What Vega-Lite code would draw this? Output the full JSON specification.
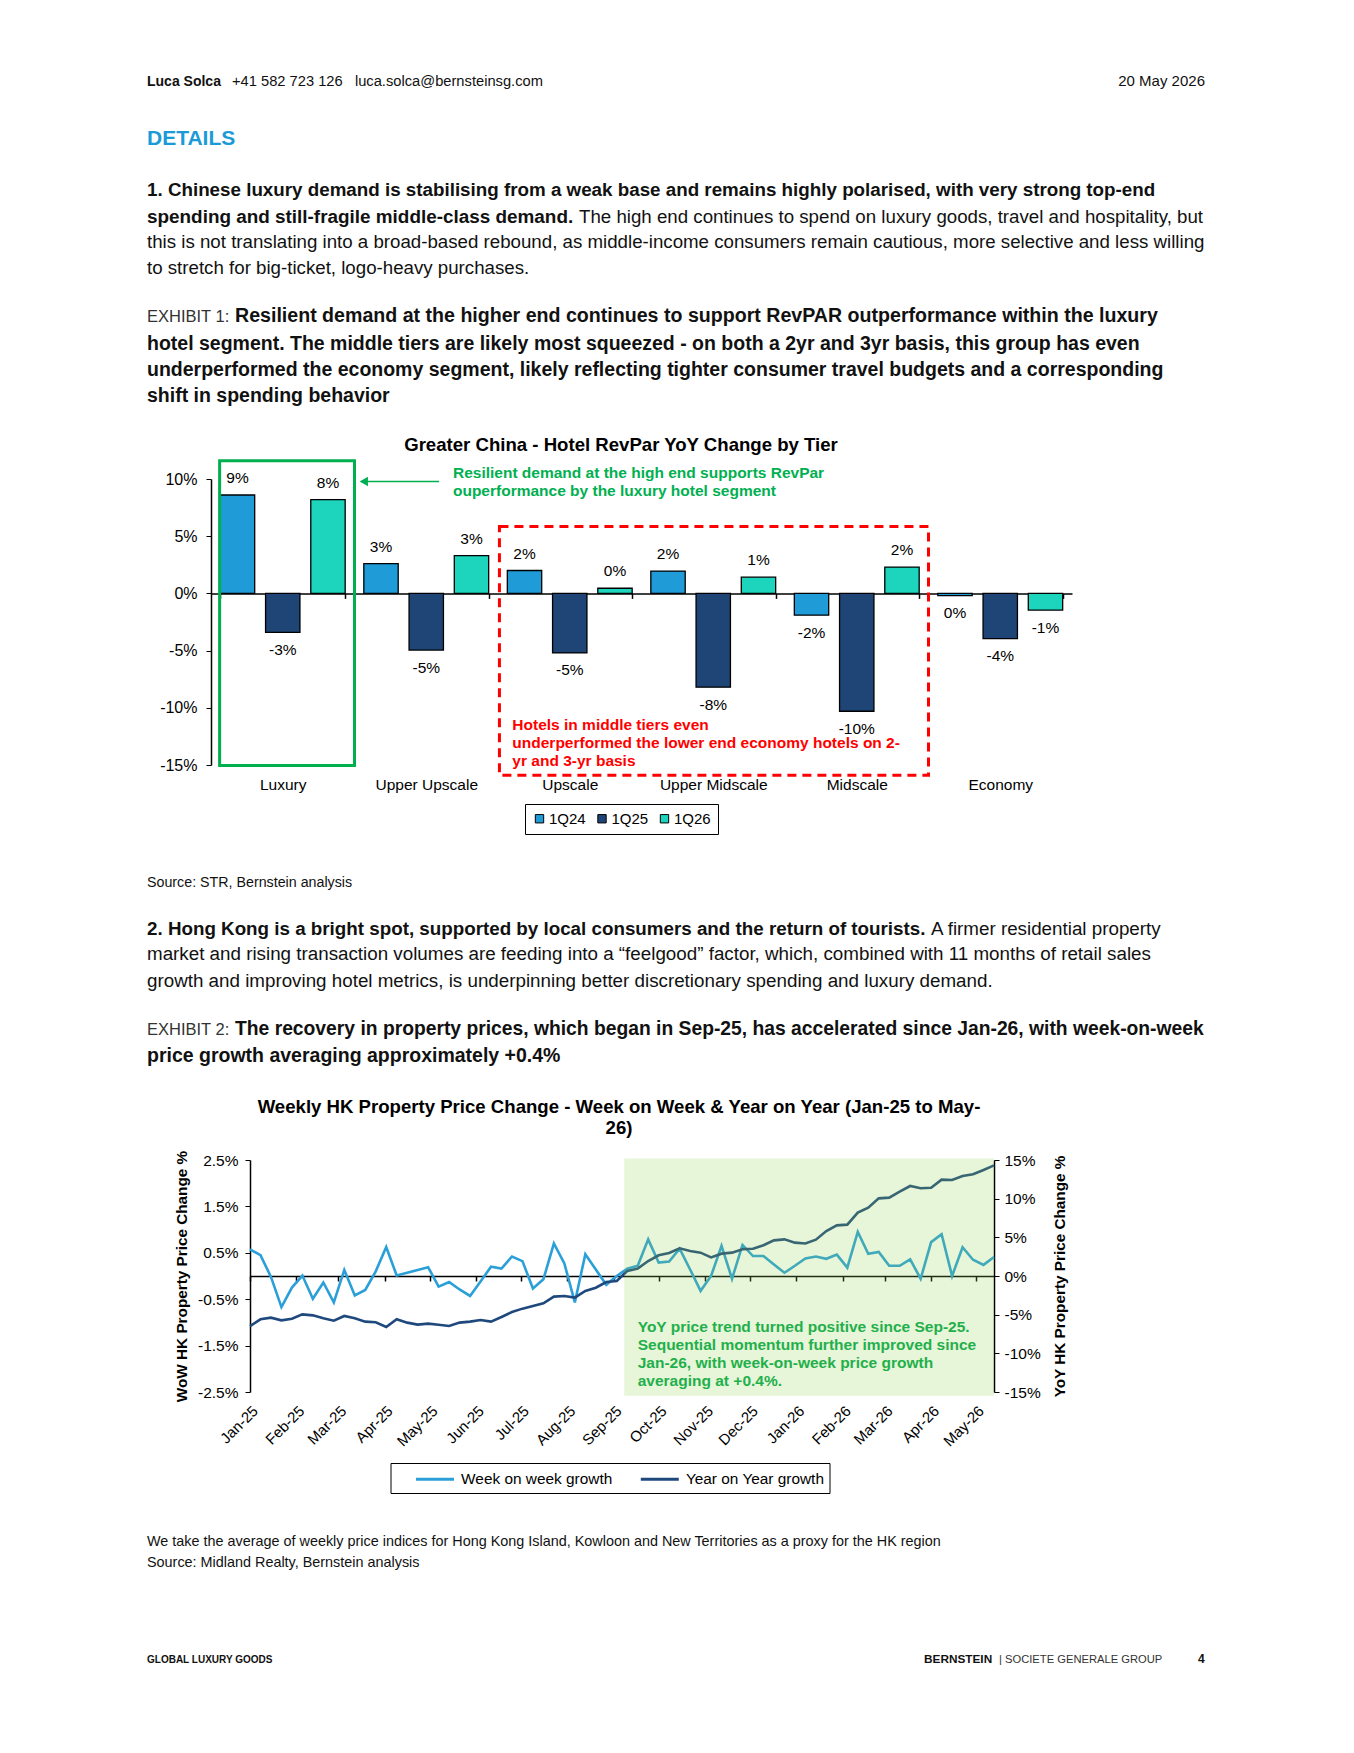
{
"$schema": "https://vega.github.io/schema/vega-lite/v6.json",
"background": "white",
"padding": {"left": 147, "top": 0, "right": 0, "bottom": 0},
"spacing": 0,
"bounds": "full",
"resolve": {"scale": {"color": "independent"}, "legend": {"color": "independent"}},
"config": {
  "view": {"stroke": null},
  "font": "Liberation Sans",
  "concat": {"spacing": 0},
  "locale": {"number": {"decimal": ".", "thousands": ",", "grouping": [3], "currency": ["$", ""], "minus": "-"}},
  "title": {"anchor": "start", "offset": 0, "color": "#111111", "font": "Liberation Sans", "baseline": "top"},
  "axis": {"labelColor": "#000000", "titleColor": "#000000", "domainColor": "#000000", "tickColor": "#000000", "grid": false, "labelFont": "Liberation Sans", "titleFont": "Liberation Sans"},
  "legend": {"labelFont": "Liberation Sans", "labelColor": "#000000"}
},
"datasets": {
  "bars": [
    {"tier": "Luxury", "quarter": "1Q24", "value": 0.086},
    {"tier": "Luxury", "quarter": "1Q25", "value": -0.034},
    {"tier": "Luxury", "quarter": "1Q26", "value": 0.082},
    {"tier": "Upper Upscale", "quarter": "1Q24", "value": 0.026},
    {"tier": "Upper Upscale", "quarter": "1Q25", "value": -0.0495},
    {"tier": "Upper Upscale", "quarter": "1Q26", "value": 0.033},
    {"tier": "Upscale", "quarter": "1Q24", "value": 0.020},
    {"tier": "Upscale", "quarter": "1Q25", "value": -0.052},
    {"tier": "Upscale", "quarter": "1Q26", "value": 0.0045},
    {"tier": "Upper Midscale", "quarter": "1Q24", "value": 0.0195},
    {"tier": "Upper Midscale", "quarter": "1Q25", "value": -0.082},
    {"tier": "Upper Midscale", "quarter": "1Q26", "value": 0.0142},
    {"tier": "Midscale", "quarter": "1Q24", "value": -0.019},
    {"tier": "Midscale", "quarter": "1Q25", "value": -0.103},
    {"tier": "Midscale", "quarter": "1Q26", "value": 0.023},
    {"tier": "Economy", "quarter": "1Q24", "value": -0.002},
    {"tier": "Economy", "quarter": "1Q25", "value": -0.0396},
    {"tier": "Economy", "quarter": "1Q26", "value": -0.0146}
  ],
  "hk": [
    {"date": "2025-01-01", "wow": 0.575, "yoy": -6.47},
    {"date": "2025-01-08", "wow": 0.45, "yoy": -5.6},
    {"date": "2025-01-15", "wow": -0.02, "yoy": -5.39},
    {"date": "2025-01-22", "wow": -0.67, "yoy": -5.73},
    {"date": "2025-01-29", "wow": -0.25, "yoy": -5.52},
    {"date": "2025-02-05", "wow": 0.01, "yoy": -4.96},
    {"date": "2025-02-12", "wow": -0.49, "yoy": -5.09},
    {"date": "2025-02-19", "wow": -0.14, "yoy": -5.47},
    {"date": "2025-02-26", "wow": -0.57, "yoy": -5.78},
    {"date": "2025-03-05", "wow": 0.13, "yoy": -5.17},
    {"date": "2025-03-12", "wow": -0.42, "yoy": -5.47},
    {"date": "2025-03-19", "wow": -0.30, "yoy": -5.9},
    {"date": "2025-03-26", "wow": 0.10, "yoy": -5.99},
    {"date": "2025-04-02", "wow": 0.625, "yoy": -6.6},
    {"date": "2025-04-09", "wow": 0.01, "yoy": -5.6},
    {"date": "2025-04-16", "wow": 0.07, "yoy": -6.03},
    {"date": "2025-04-23", "wow": 0.13, "yoy": -6.29},
    {"date": "2025-04-30", "wow": 0.19, "yoy": -6.16},
    {"date": "2025-05-07", "wow": -0.23, "yoy": -6.3},
    {"date": "2025-05-14", "wow": -0.13, "yoy": -6.47},
    {"date": "2025-05-21", "wow": -0.29, "yoy": -6.03},
    {"date": "2025-05-28", "wow": -0.43, "yoy": -5.9},
    {"date": "2025-06-04", "wow": -0.12, "yoy": -5.69},
    {"date": "2025-06-11", "wow": 0.20, "yoy": -5.9},
    {"date": "2025-06-18", "wow": 0.16, "yoy": -5.3},
    {"date": "2025-06-25", "wow": 0.42, "yoy": -4.66},
    {"date": "2025-07-02", "wow": 0.32, "yoy": -4.22},
    {"date": "2025-07-09", "wow": -0.27, "yoy": -3.88},
    {"date": "2025-07-16", "wow": -0.07, "yoy": -3.53},
    {"date": "2025-07-23", "wow": 0.70, "yoy": -2.67},
    {"date": "2025-07-30", "wow": 0.27, "yoy": -2.59},
    {"date": "2025-08-06", "wow": -0.57, "yoy": -2.8},
    {"date": "2025-08-13", "wow": 0.47, "yoy": -1.94},
    {"date": "2025-08-20", "wow": 0.14, "yoy": -1.51},
    {"date": "2025-08-27", "wow": -0.19, "yoy": -0.78},
    {"date": "2025-09-03", "wow": 0.0, "yoy": -0.65},
    {"date": "2025-09-10", "wow": 0.16, "yoy": 0.65},
    {"date": "2025-09-17", "wow": 0.22, "yoy": 0.95},
    {"date": "2025-09-24", "wow": 0.79, "yoy": 1.94},
    {"date": "2025-10-01", "wow": 0.29, "yoy": 2.67},
    {"date": "2025-10-08", "wow": 0.31, "yoy": 2.97},
    {"date": "2025-10-15", "wow": 0.59, "yoy": 3.58},
    {"date": "2025-10-22", "wow": 0.14, "yoy": 3.23},
    {"date": "2025-10-29", "wow": -0.32, "yoy": 3.02},
    {"date": "2025-11-05", "wow": 0.0, "yoy": 2.41},
    {"date": "2025-11-12", "wow": 0.65, "yoy": 2.89},
    {"date": "2025-11-19", "wow": -0.06, "yoy": 3.02},
    {"date": "2025-11-26", "wow": 0.67, "yoy": 3.45},
    {"date": "2025-12-03", "wow": 0.43, "yoy": 3.53},
    {"date": "2025-12-10", "wow": 0.43, "yoy": 3.97},
    {"date": "2025-12-17", "wow": 0.25, "yoy": 4.61},
    {"date": "2025-12-24", "wow": 0.07, "yoy": 4.74},
    {"date": "2025-12-31", "wow": 0.22, "yoy": 4.31},
    {"date": "2026-01-07", "wow": 0.38, "yoy": 4.2},
    {"date": "2026-01-14", "wow": 0.42, "yoy": 4.7},
    {"date": "2026-01-21", "wow": 0.37, "yoy": 5.82},
    {"date": "2026-01-28", "wow": 0.46, "yoy": 6.55},
    {"date": "2026-02-04", "wow": 0.18, "yoy": 6.64},
    {"date": "2026-02-11", "wow": 0.95, "yoy": 8.19},
    {"date": "2026-02-18", "wow": 0.48, "yoy": 8.84},
    {"date": "2026-02-25", "wow": 0.52, "yoy": 10.04},
    {"date": "2026-03-04", "wow": 0.22, "yoy": 10.13},
    {"date": "2026-03-11", "wow": 0.22, "yoy": 10.91},
    {"date": "2026-03-18", "wow": 0.36, "yoy": 11.64},
    {"date": "2026-03-25", "wow": -0.06, "yoy": 11.34},
    {"date": "2026-04-01", "wow": 0.73, "yoy": 11.42},
    {"date": "2026-04-08", "wow": 0.90, "yoy": 12.46},
    {"date": "2026-04-15", "wow": 0.0, "yoy": 12.41},
    {"date": "2026-04-22", "wow": 0.62, "yoy": 12.93},
    {"date": "2026-04-29", "wow": 0.35, "yoy": 13.15},
    {"date": "2026-05-06", "wow": 0.24, "yoy": 13.71},
    {"date": "2026-05-13", "wow": 0.41, "yoy": 14.31}
  ]
},
"vconcat": [
  {"spacing": 0, "hconcat": [
    {"width": 85, "height": 70.8, "data": {"values": []}, "mark": "point", "title": {"text": "Luca Solca", "orient": "bottom", "fontSize": 14, "fontWeight": "bold"}},
    {"width": 500, "height": 70.8, "data": {"values": []}, "mark": "point", "title": {"text": "+41 582 723 126\u00a0\u00a0\u00a0luca.solca@bernsteinsg.com", "orient": "bottom", "fontSize": 14.7, "fontWeight": "normal", "dy": -0.4}},
    {"width": 473, "height": 70.8, "data": {"values": []}, "mark": "point", "title": {"text": "20 May 2026", "orient": "bottom", "anchor": "end", "fontSize": 15, "fontWeight": "normal", "dy": -0.7}}
  ]},
  {"width": 1, "height": 33.6, "data": {"values": []}, "mark": "point", "title": {"text": "DETAILS", "orient": "bottom", "fontSize": 21, "fontWeight": "bold", "color": "#1a9bd7"}},
  {"width": 1, "height": 27.7, "data": {"values": []}, "mark": "point", "title": {"text": "1. Chinese luxury demand is stabilising from a weak base and remains highly polarised, with very strong top-end", "orient": "bottom", "fontSize": 18.8, "fontWeight": "bold"}},
  {"spacing": 5, "hconcat": [
    {"width": 1, "height": 3.9, "data": {"values": []}, "mark": "point", "title": {"text": "spending and still-fragile middle-class demand.", "orient": "bottom", "fontSize": 18.9, "fontWeight": "bold"}},
    {"width": 1, "height": 3.9, "data": {"values": []}, "mark": "point", "title": {"text": "The high end continues to spend on luxury goods, travel and hospitality, but", "orient": "bottom", "fontSize": 18.7, "fontWeight": "normal"}}
  ]},
  {"width": 1, "height": 2.2, "data": {"values": []}, "mark": "point", "title": {"text": ["this is not translating into a broad-based rebound, as middle-income consumers remain cautious, more selective and less willing", "to stretch for big-ticket, logo-heavy purchases."], "orient": "bottom", "fontSize": 18.7, "fontWeight": "normal", "lineHeight": 26}},
  {"spacing": 5, "hconcat": [
    {"width": 1, "height": 25.2, "data": {"values": []}, "mark": "point", "title": {"text": "EXHIBIT 1:", "orient": "bottom", "fontSize": 16.5, "fontWeight": "normal", "color": "#333333", "dy": 2.2}},
    {"width": 1, "height": 25.2, "data": {"values": []}, "mark": "point", "title": {"text": "Resilient demand at the higher end continues to support RevPAR outperformance within the luxury", "orient": "bottom", "fontSize": 19.6, "fontWeight": "bold"}}
  ]},
  {"width": 1, "height": 4.6, "data": {"values": []}, "mark": "point", "title": {"text": ["hotel segment. The middle tiers are likely most squeezed - on both a 2yr and 3yr basis, this group has even", "underperformed the economy segment, likely reflecting tighter consumer travel budgets and a corresponding", "shift in spending behavior"], "orient": "bottom", "fontSize": 19.5, "fontWeight": "bold", "lineHeight": 26.3}},
  {"width": 1, "height": 30.0, "data": {"values": []}, "mark": "point"},
  {"spacing": 0, "resolve": {"scale": {"color": "independent"}, "legend": {"color": "independent"}}, "hconcat": [
    {"width": 12, "height": 1, "data": {"values": []}, "mark": "point"},
    {
      "width": 861, "height": 286,
      "title": {"text": "Greater China - Hotel RevPar YoY Change by Tier", "anchor": "middle", "frame": "group", "dx": -20.5, "font": "Liberation Sans", "fontSize": 18.6, "fontWeight": "bold", "color": "#000000", "offset": -10.8, "baseline": "alphabetic"},
      "layer": [
        {
          "data": {"name": "bars"},
          "encoding": {
            "x": {"field": "tier", "type": "nominal", "sort": ["Luxury", "Upper Upscale", "Upscale", "Upper Midscale", "Midscale", "Economy"], "title": null, "scale": {"paddingInner": 0.13, "paddingOuter": 0.065}, "axis": {"orient": "bottom", "offset": -171.6, "labelPadding": 178.6, "tickBand": "extent", "tickSize": 5, "labelAngle": 0, "labelFontSize": 15.5, "domainWidth": 1.5, "tickWidth": 1.5}},
            "xOffset": {"field": "quarter", "type": "nominal", "sort": ["1Q24", "1Q25", "1Q26"], "scale": {"paddingInner": 0.24, "paddingOuter": 0}},
            "y": {"field": "value", "type": "quantitative", "title": null, "scale": {"domain": [-0.15, 0.10], "nice": false}, "axis": {"values": [-0.15, -0.10, -0.05, 0, 0.05, 0.10], "format": ".0%", "tickSize": 5, "labelPadding": 9, "labelFontSize": 16, "domainWidth": 1.5}}
          },
          "layer": [
            {"mark": {"type": "bar", "stroke": "#000000", "strokeWidth": 1.3}, "encoding": {"color": {"field": "quarter", "type": "nominal", "scale": {"domain": ["1Q24", "1Q25", "1Q26"], "range": ["#1f9bd7", "#1f4576", "#1dd5bd"]}, "legend": {"orient": "none", "legendX": 314, "legendY": 325, "direction": "horizontal", "title": null, "strokeColor": "#000000", "padding": 7, "symbolType": "square", "symbolSize": 70, "symbolStrokeColor": "#000000", "symbolStrokeWidth": 1, "labelFontSize": 15, "labelOffset": 2, "columnPadding": 8.5}}}},
            {"transform": [{"filter": "datum.value >= 0"}], "mark": {"type": "text", "baseline": "alphabetic", "dy": -12, "fontSize": 15.5, "color": "#000000"}, "encoding": {"text": {"field": "value", "type": "quantitative", "format": ".0%"}}},
            {"transform": [{"filter": "datum.value < 0"}], "mark": {"type": "text", "baseline": "top", "dy": 10.5, "fontSize": 15.5, "color": "#000000"}, "encoding": {"text": {"field": "value", "type": "quantitative", "format": ".0%"}}}
          ]
        },
        {
          "data": {"values": [{"x1": 0.06, "x2": 1.0, "y1": 0.116, "y2": -0.1505}]},
          "mark": {"type": "rect", "fillOpacity": 0, "stroke": "#00b050", "strokeWidth": 3},
          "encoding": {"x": {"field": "x1", "type": "quantitative", "scale": {"domain": [0, 6], "nice": false}, "axis": null}, "x2": {"field": "x2"}, "y": {"field": "y1", "type": "quantitative", "title": null}, "y2": {"field": "y2"}}
        },
        {
          "data": {"values": [{"x1": 2.01, "x2": 5.0, "y1": 0.0585, "y2": -0.159}]},
          "mark": {"type": "rect", "fillOpacity": 0, "stroke": "#ff0000", "strokeWidth": 3, "strokeDash": [9, 6]},
          "encoding": {"x": {"field": "x1", "type": "quantitative", "scale": {"domain": [0, 6], "nice": false}, "axis": null}, "x2": {"field": "x2"}, "y": {"field": "y1", "type": "quantitative", "title": null}, "y2": {"field": "y2"}}
        },
        {
          "data": {"values": [{"x1": 1.59, "x2": 1.045, "y": 0.0979}]},
          "mark": {"type": "rule", "color": "#00b050", "strokeWidth": 1.5},
          "encoding": {"x": {"field": "x1", "type": "quantitative", "scale": {"domain": [0, 6], "nice": false}, "axis": null}, "x2": {"field": "x2"}, "y": {"field": "y", "type": "quantitative", "title": null}}
        },
        {
          "data": {"values": [{"x": 1.065, "y": 0.0979}]},
          "mark": {"type": "point", "shape": "triangle-left", "filled": true, "color": "#00b050", "size": 90, "opacity": 1},
          "encoding": {"x": {"field": "x", "type": "quantitative", "scale": {"domain": [0, 6], "nice": false}, "axis": null}, "y": {"field": "y", "type": "quantitative", "title": null}}
        },
        {
          "data": {"values": [{"x": 1.686, "y": 0.1115, "note": "Resilient demand at the high end supports RevPar\nouperformance by the luxury hotel segment"}]},
          "mark": {"type": "text", "align": "left", "baseline": "top", "fontSize": 15.5, "fontWeight": "bold", "color": "#00b050", "lineHeight": 18, "lineBreak": "\n"},
          "encoding": {"x": {"field": "x", "type": "quantitative", "scale": {"domain": [0, 6], "nice": false}, "axis": null}, "y": {"field": "y", "type": "quantitative", "title": null}, "text": {"field": "note"}}
        },
        {
          "data": {"values": [{"x": 2.10, "y": -0.109, "note": "Hotels in middle tiers even\nunderperformed the lower end economy hotels on 2-\nyr and 3-yr basis"}]},
          "mark": {"type": "text", "align": "left", "baseline": "top", "fontSize": 15.5, "fontWeight": "bold", "color": "#ff0000", "lineHeight": 18, "lineBreak": "\n"},
          "encoding": {"x": {"field": "x", "type": "quantitative", "scale": {"domain": [0, 6], "nice": false}, "axis": null}, "y": {"field": "y", "type": "quantitative", "title": null}, "text": {"field": "note"}}
        }
      ],
      "resolve": {"scale": {"x": "independent"}}
    }
  ]},
  {"width": 1, "height": 36.7, "data": {"values": []}, "mark": "point", "title": {"text": "Source: STR, Bernstein analysis", "orient": "bottom", "fontSize": 14.25, "fontWeight": "normal"}},
  {"spacing": 5, "hconcat": [
    {"width": 1, "height": 25.6, "data": {"values": []}, "mark": "point", "title": {"text": "2. Hong Kong is a bright spot, supported by local consumers and the return of tourists.", "orient": "bottom", "fontSize": 18.8, "fontWeight": "bold"}},
    {"width": 1, "height": 25.6, "data": {"values": []}, "mark": "point", "title": {"text": "A firmer residential property", "orient": "bottom", "fontSize": 18.8, "fontWeight": "normal"}}
  ]},
  {"width": 1, "height": 1.8, "data": {"values": []}, "mark": "point", "title": {"text": ["market and rising transaction volumes are feeding into a “feelgood” factor, which, combined with 11 months of retail sales", "growth and improving hotel metrics, is underpinning better discretionary spending and luxury demand."], "orient": "bottom", "fontSize": 18.8, "fontWeight": "normal", "lineHeight": 27}},
  {"spacing": 5, "hconcat": [
    {"width": 1, "height": 24.6, "data": {"values": []}, "mark": "point", "title": {"text": "EXHIBIT 2:", "orient": "bottom", "fontSize": 16.5, "fontWeight": "normal", "color": "#333333", "dy": 2.2}},
    {"width": 1, "height": 24.6, "data": {"values": []}, "mark": "point", "title": {"text": "The recovery in property prices, which began in Sep-25, has accelerated since Jan-26, with week-on-week", "orient": "bottom", "fontSize": 19.3, "fontWeight": "bold"}}
  ]},
  {"width": 1, "height": 3.8, "data": {"values": []}, "mark": "point", "title": {"text": "price growth averaging approximately +0.4%", "orient": "bottom", "fontSize": 19.5, "fontWeight": "bold"}},
  {"width": 1, "height": 30.6, "data": {"values": []}, "mark": "point"},
  {"spacing": 0, "resolve": {"scale": {"color": "independent"}, "legend": {"color": "independent"}}, "hconcat": [
    {"width": 26.5, "height": 1, "data": {"values": []}, "mark": "point"},
    {
      "width": 744, "height": 232,
      "title": {"text": ["Weekly HK Property Price Change - Week on Week & Year on Year (Jan-25 to May-", "26)"], "anchor": "middle", "frame": "group", "dx": -3, "font": "Liberation Sans", "fontSize": 18.6, "fontWeight": "bold", "color": "#000000", "lineHeight": 21, "offset": -1.9, "baseline": "alphabetic"},
      "layer": [
        {
          "data": {"name": "hk"},
          "mark": {"type": "line", "strokeWidth": 2.6},
          "encoding": {
            "x": {"field": "date", "type": "temporal", "title": null, "scale": {"type": "utc", "domain": [{"year": 2025, "month": 1, "date": 1, "utc": true}, {"year": 2026, "month": 5, "date": 13, "utc": true}]}, "axis": {"format": "%b-%y", "tickCount": {"interval": "month", "step": 1}, "labelAngle": -45, "labelOverlap": false, "labelFlush": false, "offset": -116, "labelPadding": 122, "tickSize": 5, "labelFontSize": 15, "domainWidth": 1.5, "tickWidth": 1.5}},
            "y": {"field": "wow", "type": "quantitative", "title": "WoW HK Property Price Change %", "scale": {"domain": [-2.5, 2.5], "nice": false}, "axis": {"values": [-2.5, -1.5, -0.5, 0.5, 1.5, 2.5], "labelExpr": "format(datum.value, '.1f') + '%'", "tickSize": 5, "labelPadding": 7, "labelFontSize": 15.5, "titleFontSize": 15.3, "titleFontWeight": "bold", "titlePadding": 8, "domainWidth": 1.5}},
            "color": {"datum": "Week on week growth", "type": "nominal", "scale": {"domain": ["Week on week growth", "Year on Year growth"], "range": ["#2a9fd8", "#1f497d"]}, "legend": {"orient": "none", "legendX": 140.5, "legendY": 303, "direction": "horizontal", "title": "\u00a0", "titleOrient": "left", "titleFontSize": 8, "titlePadding": 19, "strokeColor": "#000000", "padding": 5, "symbolType": "M-1,0H3", "symbolSize": 361, "symbolStrokeWidth": 3, "labelFontSize": 15.4, "columnPadding": 21.8, "labelOffset": 24.6}}
          }
        },
        {
          "data": {"name": "hk"},
          "mark": {"type": "line", "strokeWidth": 2.6},
          "encoding": {
            "x": {"field": "date", "type": "temporal", "title": null},
            "y": {"field": "yoy", "type": "quantitative", "title": "YoY HK Property Price Change %", "scale": {"domain": [-15, 15], "nice": false}, "axis": {"orient": "right", "values": [-15, -10, -5, 0, 5, 10, 15], "labelExpr": "format(datum.value, 'd') + '%'", "tickSize": 5, "labelPadding": 5, "labelFontSize": 15.5, "titleFontSize": 15.3, "titleFontWeight": "bold", "titlePadding": 12, "titleAngle": 270, "titleBaseline": "top", "domainWidth": 1.5}},
            "color": {"datum": "Year on Year growth", "type": "nominal"}
          }
        },
        {
          "data": {"values": [{"start": "2025-09-08", "end": "2026-05-13", "top": 2.53, "bottom": -2.58}]},
          "mark": {"type": "rect", "color": "#92d050", "opacity": 0.22},
          "encoding": {"x": {"field": "start", "type": "temporal", "title": null}, "x2": {"field": "end"}, "y": {"field": "top", "type": "quantitative", "scale": {"domain": [-2.5, 2.5], "nice": false}, "axis": null}, "y2": {"field": "bottom"}}
        },
        {
          "data": {"values": [{"date": "2025-09-17", "y": -0.95, "note": "YoY price trend turned positive since Sep-25.\nSequential momentum further improved since\nJan-26, with week-on-week price growth\naveraging at +0.4%."}]},
          "mark": {"type": "text", "align": "left", "baseline": "top", "fontSize": 15.5, "fontWeight": "bold", "color": "#1fb04b", "lineHeight": 18, "lineBreak": "\n"},
          "encoding": {"x": {"field": "date", "type": "temporal", "title": null}, "y": {"field": "y", "type": "quantitative", "scale": {"domain": [-2.5, 2.5], "nice": false}, "axis": null}, "text": {"field": "note"}}
        }
      ],
      "resolve": {"scale": {"y": "independent"}}
    }
  ]},
  {"width": 1, "height": 36.5, "data": {"values": []}, "mark": "point", "title": {"text": ["We take the average of weekly price indices for Hong Kong Island, Kowloon and New Territories as a proxy for the HK region", "Source: Midland Realty, Bernstein analysis"], "orient": "bottom", "fontSize": 14.4, "fontWeight": "normal", "lineHeight": 21}},
  {"spacing": 0, "hconcat": [
    {"width": 776.5, "height": 80.7, "data": {"values": []}, "mark": "point", "title": {"text": "GLOBAL LUXURY GOODS", "orient": "bottom", "fontSize": 10, "fontWeight": "bold", "dy": 1.2}},
    {"width": 75, "height": 80.7, "data": {"values": []}, "mark": "point", "title": {"text": "BERNSTEIN", "orient": "bottom", "fontSize": 11.8, "fontWeight": "bold"}},
    {"width": 198.5, "height": 80.7, "data": {"values": []}, "mark": "point", "title": {"text": "| SOCIETE GENERALE GROUP", "orient": "bottom", "fontSize": 11.2, "fontWeight": "normal", "color": "#333333", "dy": 0.5}},
    {"width": 8, "height": 80.7, "data": {"values": []}, "mark": "point", "title": {"text": "4", "orient": "bottom", "fontSize": 12, "fontWeight": "bold"}}
  ]}
]
}
